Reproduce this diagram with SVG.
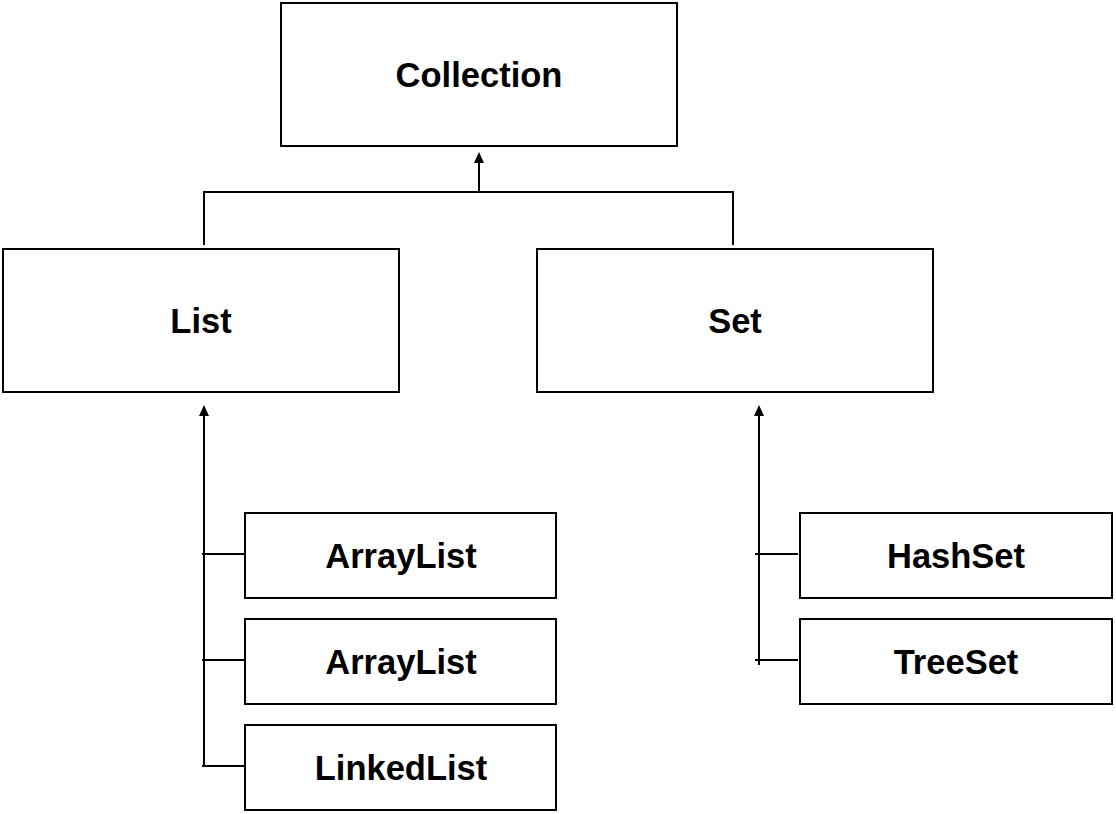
<svg xmlns="http://www.w3.org/2000/svg" width="1116" height="814" viewBox="0 0 1116 814">
<style>
.box{fill:#fff;stroke:#000;stroke-width:2}
.lbl{font-family:"Liberation Sans",Arial,sans-serif;font-weight:bold;font-size:34.5px;fill:#000;text-anchor:middle}
.ln{fill:none;stroke:#000;stroke-width:2}
.ah{fill:#000}
</style>
<rect width="1116" height="814" fill="#fff"/>
<g id="connectors">
<line class="ln" x1="479" y1="191" x2="479" y2="160"/>
<path class="ah" d="M479,152 L484,163 L474,163 Z"/>
<polyline class="ln" points="204,245 204,192 733,192 733,245"/>
<line class="ln" x1="204" y1="767" x2="204" y2="412"/>
<path class="ah" d="M204,405 L209,416 L199,416 Z"/>
<line class="ln" x1="202" y1="554" x2="245" y2="554"/>
<line class="ln" x1="202" y1="660" x2="245" y2="660"/>
<line class="ln" x1="202" y1="766" x2="245" y2="766"/>
<line class="ln" x1="759" y1="665" x2="759" y2="412"/>
<path class="ah" d="M759,405 L764,416 L754,416 Z"/>
<line class="ln" x1="755" y1="554" x2="798" y2="554"/>
<line class="ln" x1="755" y1="660" x2="798" y2="660"/>
</g>
<g id="collection"><rect class="box" x="281" y="3" width="396" height="143"/><text class="lbl" x="479" y="87">Collection</text></g>
<g id="list"><rect class="box" x="3" y="249" width="396" height="143"/><text class="lbl" x="201" y="333">List</text></g>
<g id="set"><rect class="box" x="537" y="249" width="396" height="143"/><text class="lbl" x="735" y="333">Set</text></g>
<g id="arraylist1"><rect class="box" x="245" y="513" width="311" height="85"/><text class="lbl" x="401" y="568">ArrayList</text></g>
<g id="arraylist2"><rect class="box" x="245" y="619" width="311" height="85"/><text class="lbl" x="401" y="674">ArrayList</text></g>
<g id="linkedlist"><rect class="box" x="245" y="725" width="311" height="85"/><text class="lbl" x="401" y="780">LinkedList</text></g>
<g id="hashset"><rect class="box" x="800" y="513" width="312" height="85"/><text class="lbl" x="956" y="568">HashSet</text></g>
<g id="treeset"><rect class="box" x="800" y="619" width="312" height="85"/><text class="lbl" x="956" y="674">TreeSet</text></g>
</svg>
